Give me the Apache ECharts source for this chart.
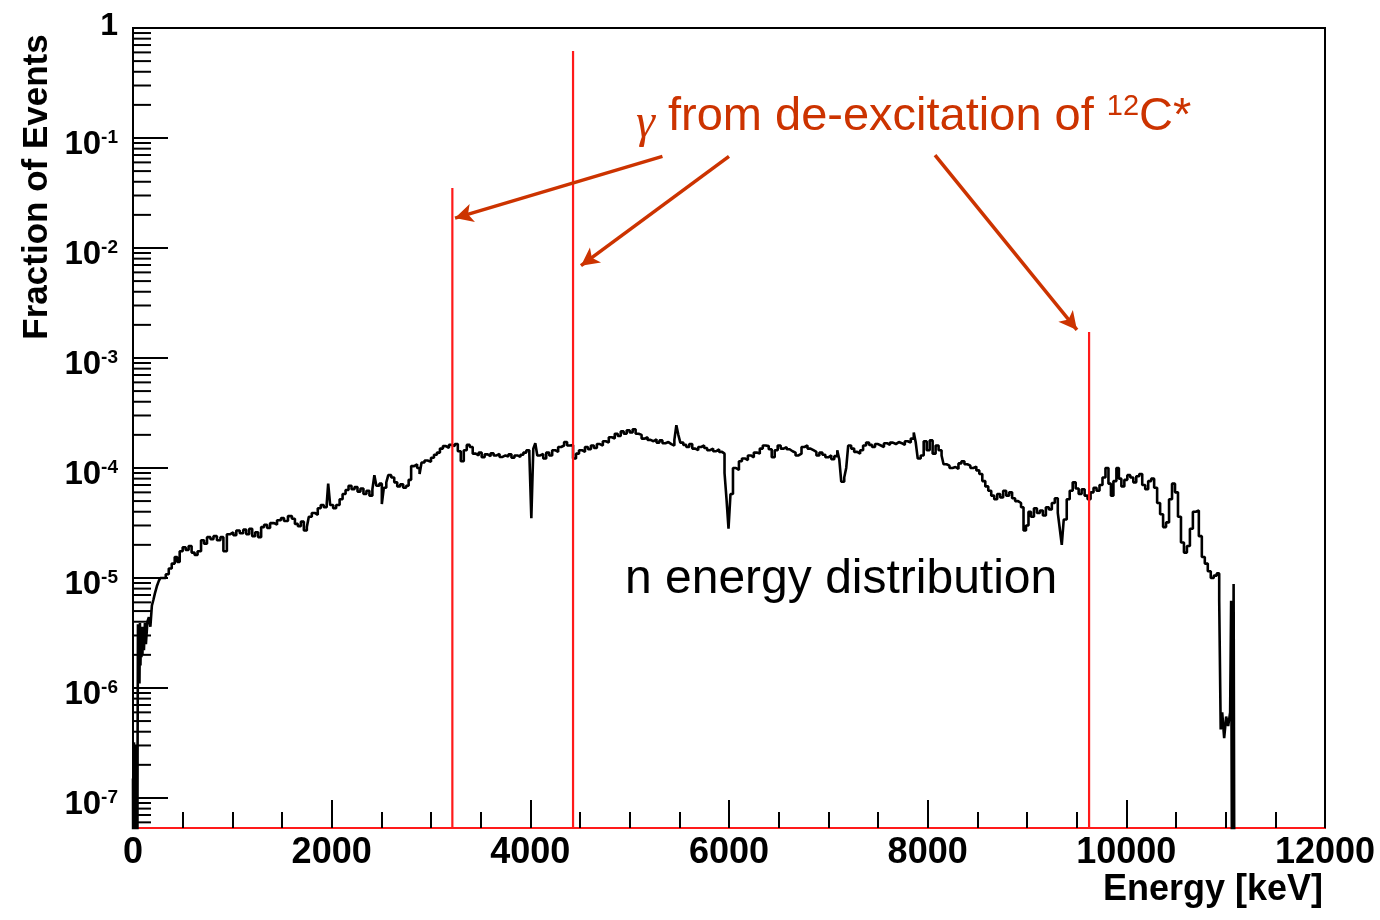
<!DOCTYPE html>
<html>
<head>
<meta charset="utf-8">
<script src="https://cdn.jsdelivr.net/npm/echarts@6/dist/echarts.min.js"></script>
<style>html,body{margin:0;padding:0;background:#fff}#c{width:1380px;height:920px}</style>
</head>
<body>
<div id="c"></div>
<script>
// ---------------- data ----------------
// histogram: bin low edge (keV) and fraction of events
const energy = [0,5,10,14,18,22,26,30,34,38,42,46,50,55,60,65,70,75,80,85,90,95,100,110,120,130,145,160,175,190,205,220,240,260,275,330,360,390,420,445,470,500,530,560,590,620,650,685,715,745,780,810,845,880,910,945,980,1010,1040,1075,1110,1140,1170,1200,1230,1260,1290,1320,1350,1380,1420,1450,1490,1520,1560,1600,1630,1660,1690,1720,1750,1770,1800,1830,1860,1890,1920,1950,1965,1985,2015,2045,2080,2110,2140,2170,2200,2230,2260,2290,2320,2350,2380,2410,2430,2450,2480,2505,2525,2550,2570,2600,2630,2660,2690,2720,2750,2775,2800,2830,2860,2885,2905,2935,2965,3000,3030,3060,3090,3120,3150,3180,3210,3240,3270,3300,3330,3360,3390,3420,3450,3480,3510,3540,3570,3600,3630,3660,3690,3720,3750,3780,3810,3840,3870,3900,3930,3960,3990,4010,4030,4050,4070,4100,4130,4160,4190,4220,4250,4280,4310,4340,4370,4400,4430,4460,4490,4520,4550,4580,4610,4640,4670,4700,4730,4760,4790,4820,4850,4880,4910,4940,4970,5000,5030,5060,5090,5120,5150,5180,5210,5240,5270,5300,5330,5360,5390,5420,5450,5470,5490,5510,5540,5570,5600,5630,5660,5690,5720,5750,5780,5810,5840,5870,5900,5930,5955,5975,5995,6015,6040,6070,6100,6130,6160,6190,6220,6250,6280,6310,6340,6370,6400,6430,6460,6490,6520,6550,6580,6610,6640,6670,6700,6730,6760,6790,6820,6850,6880,6910,6940,6970,7000,7030,7060,7090,7110,7130,7160,7180,7200,7230,7260,7290,7320,7350,7380,7410,7440,7470,7500,7530,7560,7590,7620,7650,7680,7710,7740,7770,7800,7830,7860,7880,7900,7930,7960,7990,8020,8050,8080,8110,8140,8160,8190,8220,8250,8280,8310,8340,8370,8400,8430,8460,8490,8520,8550,8580,8610,8640,8670,8700,8730,8760,8790,8820,8850,8880,8910,8940,8965,8990,9015,9040,9070,9100,9130,9160,9190,9220,9250,9280,9310,9330,9350,9370,9400,9430,9460,9490,9520,9550,9580,9610,9640,9670,9700,9730,9760,9790,9820,9845,9870,9900,9925,9950,9980,10010,10040,10070,10100,10130,10160,10190,10220,10250,10280,10310,10340,10370,10400,10430,10460,10490,10520,10550,10580,10610,10640,10670,10700,10730,10760,10790,10820,10850,10880,10910,10935,10950,10965,10985,11005,11025,11045,11055,11068,11080,11090];
const fraction = [1.5e-7,1e-9,3.2e-7,1.1e-7,1e-9,2.6e-7,1.3e-7,1e-9,3.0e-7,1.6e-7,1e-9,2.4e-7,3.8e-6,1.4e-6,3.4e-6,1.1e-6,3.9e-6,1.6e-6,3.3e-6,1.9e-6,3.6e-6,2.0e-6,3.6e-6,2.2e-6,3.9e-6,2.5e-6,4.0e-6,4.4e-6,3.6e-6,5.6e-6,6.3e-6,7.2e-6,8.4e-6,9.4e-6,1.0e-5,1.08e-5,1.22e-5,1.35e-5,1.55e-5,1.4e-5,1.75e-5,1.9e-5,1.8e-5,1.95e-5,1.7e-5,1.62e-5,1.75e-5,2.2e-5,2.05e-5,2.35e-5,2.25e-5,2.4e-5,2.2e-5,2.35e-5,1.75e-5,2.5e-5,2.6e-5,2.45e-5,2.7e-5,2.55e-5,2.75e-5,2.5e-5,2.8e-5,2.4e-5,2.6e-5,2.35e-5,2.9e-5,3.05e-5,2.85e-5,3.15e-5,3.05e-5,3.35e-5,3.5e-5,3.3e-5,3.65e-5,3.45e-5,3.1e-5,2.95e-5,3.25e-5,2.7e-5,2.9e-5,3.6e-5,3.9e-5,3.75e-5,4.3e-5,4.6e-5,4.4e-5,4.7e-5,7.2e-5,4.6e-5,4.3e-5,4.6e-5,5.2e-5,5.8e-5,6.3e-5,6.9e-5,6.4e-5,6.7e-5,6.1e-5,6.5e-5,5.8e-5,6.2e-5,5.6e-5,6.4e-5,8.6e-5,6.9e-5,7.2e-5,4.7e-5,6.6e-5,7.4e-5,8.6e-5,8.2e-5,7.4e-5,6.8e-5,7.1e-5,6.6e-5,6.9e-5,7.8e-5,1.04e-4,1.08e-4,1.0e-4,8.8e-5,1.12e-4,1.17e-4,1.14e-4,1.24e-4,1.32e-4,1.38e-4,1.5e-4,1.58e-4,1.52e-4,1.62e-4,1.58e-4,1.65e-4,1.42e-4,1.15e-4,1.45e-4,1.62e-4,1.55e-4,1.35e-4,1.3e-4,1.38e-4,1.25e-4,1.33e-4,1.28e-4,1.36e-4,1.3e-4,1.34e-4,1.26e-4,1.3e-4,1.27e-4,1.33e-4,1.24e-4,1.3e-4,1.26e-4,1.32e-4,1.38e-4,1.45e-4,1.35e-4,3.5e-5,1.5e-4,1.68e-4,1.3e-4,1.34e-4,1.22e-4,1.38e-4,1.3e-4,1.45e-4,1.4e-4,1.55e-4,1.6e-4,1.72e-4,1.6e-4,1.62e-4,1.22e-4,1.35e-4,1.45e-4,1.4e-4,1.55e-4,1.48e-4,1.6e-4,1.52e-4,1.65e-4,1.6e-4,1.75e-4,1.7e-4,1.9e-4,1.85e-4,2.05e-4,1.95e-4,2.15e-4,2.05e-4,2.2e-4,2.1e-4,2.25e-4,2.05e-4,2.0e-4,1.85e-4,1.9e-4,1.8e-4,1.75e-4,1.82e-4,1.7e-4,1.78e-4,1.68e-4,1.72e-4,1.65e-4,1.6e-4,1.8e-4,2.45e-4,2.0e-4,1.7e-4,1.62e-4,1.55e-4,1.65e-4,1.5e-4,1.45e-4,1.55e-4,1.6e-4,1.52e-4,1.45e-4,1.5e-4,1.42e-4,1.48e-4,1.4e-4,1.35e-4,9.0e-5,5.2e-5,2.8e-5,5.8e-5,1.0e-4,9.6e-5,1.15e-4,1.22e-4,1.18e-4,1.3e-4,1.25e-4,1.38e-4,1.35e-4,1.5e-4,1.6e-4,1.58e-4,1.48e-4,1.25e-4,1.45e-4,1.6e-4,1.5e-4,1.55e-4,1.48e-4,1.42e-4,1.38e-4,1.3e-4,1.35e-4,1.55e-4,1.6e-4,1.5e-4,1.45e-4,1.4e-4,1.3e-4,1.38e-4,1.32e-4,1.25e-4,1.3e-4,1.2e-4,1.28e-4,1.45e-4,1.2e-4,7.5e-5,8.2e-5,1.0e-4,1.6e-4,1.5e-4,1.4e-4,1.35e-4,1.45e-4,1.6e-4,1.7e-4,1.62e-4,1.55e-4,1.65e-4,1.6e-4,1.55e-4,1.68e-4,1.62e-4,1.7e-4,1.65e-4,1.72e-4,1.68e-4,1.62e-4,1.75e-4,1.7e-4,1.85e-4,2.1e-4,1.7e-4,1.22e-4,1.3e-4,1.75e-4,1.45e-4,1.78e-4,1.35e-4,1.6e-4,1.45e-4,1.3e-4,1.08e-4,1.05e-4,1.0e-4,1.02e-4,9.8e-5,1.1e-4,1.15e-4,1.08e-4,1.05e-4,1.0e-4,1.03e-4,9.5e-5,8.8e-5,7.6e-5,6.8e-5,6.2e-5,5.6e-5,5.2e-5,5.8e-5,5.4e-5,6.2e-5,5.6e-5,6.0e-5,5.3e-5,5.0e-5,4.8e-5,4.4e-5,2.7e-5,3.0e-5,4.0e-5,3.6e-5,4.3e-5,3.9e-5,4.1e-5,3.7e-5,4.4e-5,4.2e-5,4.8e-5,5.3e-5,3.9e-5,2.8e-5,2.0e-5,3.4e-5,5.2e-5,6.2e-5,7.4e-5,6.5e-5,5.8e-5,6.4e-5,5.6e-5,5.2e-5,6.0e-5,6.6e-5,6.2e-5,7.0e-5,8.2e-5,1.0e-4,7.2e-5,5.6e-5,7.6e-5,1.0e-4,8.0e-5,6.8e-5,7.8e-5,8.6e-5,8.2e-5,7.4e-5,8.4e-5,8.8e-5,7.0e-5,6.4e-5,7.6e-5,8.0e-5,6.6e-5,4.8e-5,3.8e-5,2.9e-5,3.2e-5,5.2e-5,7.2e-5,6.0e-5,3.6e-5,2.1e-5,1.7e-5,1.95e-5,2.8e-5,4.0e-5,4.1e-5,2.4e-5,1.55e-5,1.35e-5,1.15e-5,1.0e-5,1.05e-5,1.1e-5,6.2e-6,4.2e-7,6.0e-7,3.5e-7,5.5e-7,4.5e-7,6.0e-7,6.2e-6,1e-9,8.8e-6,1e-9];

// gamma lines from 12C* de-excitation
const gammaEnergy = [3215, 4430, 9625];
const gammaTop = [0.0351, 0.618, 0.00172];

// annotation arrows (data units): tail -> head
const arrowTail = [[5330, 0.068], [6000, 0.068], [8074, 0.070]];
const arrowHead = [[3242, 0.0187], [4510, 0.0069], [9503, 0.0018]];

// axes
const xMin = 0, xMax = 12000, xStep = 2000;
const yMin = 5.33e-8, yMax = 1;
const yDecades = [-8, -7, -6, -5, -4, -3, -2, -1, 0];
const yMinorMult = [2, 3, 4, 5, 6, 7, 8, 9];

// ---------------- build ----------------
const hist = energy.map((e, i) => [e, fraction[i]]);
const tickData = [];
yDecades.forEach(d => {
  const base = Math.pow(10, d);
  if (base >= yMin && base <= yMax) tickData.push([0, base, 1]);
  yMinorMult.forEach(m => {
    const v = m * base;
    if (v >= yMin && v <= yMax) tickData.push([0, v, 0]);
  });
});

const RED_TXT = '#cc3300';
const FONT = 'Liberation Sans, Arial, sans-serif';

const series = [
  {
    type: 'line', data: hist, step: 'end', symbol: 'none', z: 3,
    lineStyle: { color: '#000', width: 2.6 }, clip: true, animation: false
  },
  {
    type: 'custom', data: tickData, z: 2, silent: true, animation: false,
    encode: { x: 0, y: 1 },
    renderItem: function (params, api) {
      const p = api.coord([0, api.value(1)]);
      const len = api.value(2) === 1 ? 35 : 18;
      return { type: 'line', shape: { x1: p[0], y1: p[1], x2: p[0] + len, y2: p[1] },
        style: { stroke: '#000', lineWidth: 2 } };
    }
  }
];
gammaEnergy.forEach((e, i) => {
  series.push({
    type: 'line', data: [[e, yMin], [e, gammaTop[i]]], symbol: 'none', z: 4,
    lineStyle: { color: '#ff1a1a', width: 2.2 }, animation: false, silent: true
  });
});
series.push({
  type: 'line', data: [], z: 5, animation: false, silent: true,
  markLine: {
    silent: true, animation: false, symbol: ['none', 'arrow'], symbolSize: [14, 18],
    label: { show: false },
    lineStyle: { color: RED_TXT, width: 3.5, type: 'solid' },
    data: arrowTail.map((t, i) => [{ coord: t }, { coord: arrowHead[i] }])
  }
});

const chart = echarts.init(document.getElementById('c'), null, { renderer: 'canvas' });
chart.setOption({
  animation: false,
  backgroundColor: '#fff',
  grid: { left: 133, right: 55, top: 28, bottom: 92, show: true, borderColor: '#000', borderWidth: 2, backgroundColor: 'transparent' },
  xAxis: {
    type: 'value', min: xMin, max: xMax, interval: xStep,
    axisLine: { show: true, onZero: false, lineStyle: { color: '#ff1a1a', width: 2 } },
    axisTick: { show: true, inside: true, length: 28, lineStyle: { color: '#000', width: 2 } },
    minorTick: { show: true, splitNumber: 4, length: 16, lineStyle: { color: '#000', width: 2 } },
    splitLine: { show: false },
    axisLabel: { margin: 7, color: '#000', fontSize: 36, fontWeight: 'bold', fontFamily: FONT,
      formatter: v => String(v) }
  },
  yAxis: {
    type: 'log', logBase: 10, min: yMin, max: yMax,
    axisLine: { show: true, lineStyle: { color: '#000', width: 2 } },
    axisTick: { show: false },
    splitLine: { show: false },
    axisLabel: {
      margin: 15, color: '#000', fontFamily: FONT,
      formatter: function (v) {
        const ex = Math.log10(v);
        if (Math.abs(ex - Math.round(ex)) > 1e-6) return '';
        const n = Math.round(ex);
        if (n === 0) return '{o|1}';
        return '{b|10}{s|' + n + '}';
      },
      rich: {
        o: { fontSize: 32, fontWeight: 'bold', fontFamily: FONT, color: '#000', padding: [0, 0, 4, 0] },
        b: { fontSize: 33, fontWeight: 'bold', fontFamily: FONT, color: '#000', padding: [14, 0, 0, 0] },
        s: { fontSize: 19, fontWeight: 'bold', fontFamily: FONT, color: '#000' }
      }
    }
  },
  graphic: [
    { type: 'text', x: 37, y: 187, rotation: Math.PI / 2, silent: true,
      style: { text: 'Fraction of Events', fontSize: 35, fontWeight: 'bold', fontFamily: FONT, fill: '#000', align: 'center', verticalAlign: 'middle' } },
    { type: 'text', x: 1323, y: 890, silent: true,
      style: { text: 'Energy [keV]', fontSize: 36, fontWeight: 'bold', fontFamily: FONT, fill: '#000', align: 'right', verticalAlign: 'middle' } },
    { type: 'text', x: 625, y: 580, silent: true,
      style: { text: 'n energy distribution', fontSize: 48, fontFamily: FONT, fill: '#000', align: 'left', verticalAlign: 'middle' } },
    { type: 'text', x: 636, y: 117, silent: true,
      style: {
        text: '{g|γ}{t| from de-excitation of }{s|12}{t|C*}',
        align: 'left', verticalAlign: 'middle',
        rich: {
          g: { fontSize: 48, fontStyle: 'italic', fontFamily: 'Liberation Serif, serif', fill: RED_TXT, padding: [14, 0, 0, 0] },
          t: { fontSize: 47, fontFamily: FONT, fill: RED_TXT },
          s: { fontSize: 29, fontFamily: FONT, fill: RED_TXT, padding: [0, 0, 20, 0] }
        }
      } }
  ],
  series: series
});
</script>
</body>
</html>
